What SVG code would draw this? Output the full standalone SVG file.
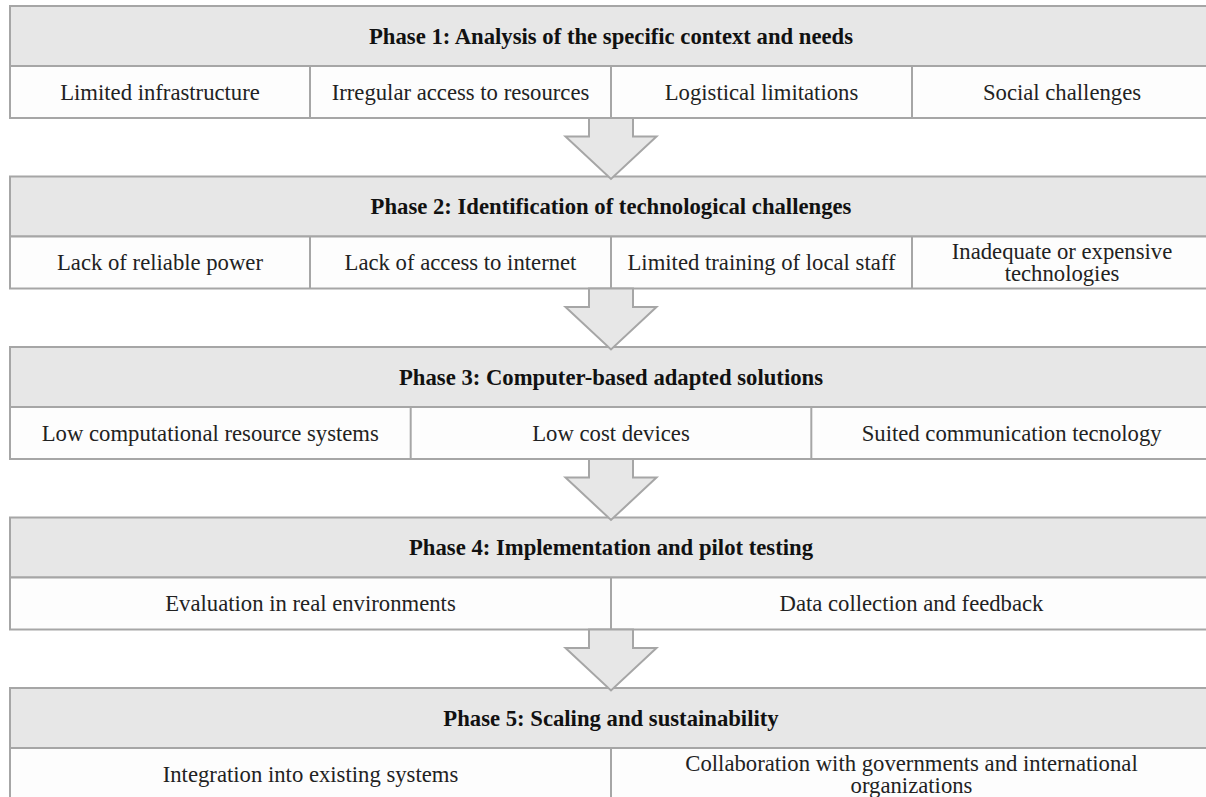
<svg xmlns="http://www.w3.org/2000/svg" width="1206" height="797" viewBox="0 0 1206 797">
<style>
.hd{fill:#e7e7e7;stroke:#a6a6a6;stroke-width:2}
.rw{fill:#fdfdfd;stroke:#a6a6a6;stroke-width:2}
.dv{stroke:#a6a6a6;stroke-width:2}
.ar{fill:#e7e7e7;stroke:#a6a6a6;stroke-width:2;stroke-linejoin:miter}
.tt{font-family:"Liberation Serif","Times New Roman",serif;font-size:22.7px;font-weight:bold;fill:#111;text-anchor:middle}
.tx{font-family:"Liberation Serif","Times New Roman",serif;font-size:22.7px;fill:#222;text-anchor:middle}
</style>
<rect x="0" y="0" width="1206" height="797" fill="#ffffff"/>
<g id="phase1">
<rect class="hd" x="10" y="6" width="1202" height="60"/>
<rect class="rw" x="10" y="66" width="1202" height="52"/>
<line class="dv" x1="310" y1="66" x2="310" y2="118"/>
<line class="dv" x1="611" y1="66" x2="611" y2="118"/>
<line class="dv" x1="912" y1="66" x2="912" y2="118"/>
<text class="tt" x="611" y="43.5">Phase 1: Analysis of the specific context and needs</text>
<text class="tx" x="160" y="99.5">Limited infrastructure</text>
<text class="tx" x="460.5" y="99.5">Irregular access to resources</text>
<text class="tx" x="761.5" y="99.5">Logistical limitations</text>
<text class="tx" x="1062" y="99.5">Social challenges</text>
</g>
<g id="phase2">
<rect class="hd" x="10" y="176.5" width="1202" height="60"/>
<rect class="rw" x="10" y="236.5" width="1202" height="52"/>
<line class="dv" x1="310" y1="236.5" x2="310" y2="288.5"/>
<line class="dv" x1="611" y1="236.5" x2="611" y2="288.5"/>
<line class="dv" x1="912" y1="236.5" x2="912" y2="288.5"/>
<text class="tt" x="611" y="214">Phase 2: Identification of technological challenges</text>
<text class="tx" x="160" y="270">Lack of reliable power</text>
<text class="tx" x="460.5" y="270">Lack of access to internet</text>
<text class="tx" x="761.5" y="270">Limited training of local staff</text>
<text class="tx" x="1062" y="258.5">Inadequate or expensive</text>
<text class="tx" x="1062" y="280.5">technologies</text>
</g>
<g id="phase3">
<rect class="hd" x="10" y="347" width="1202" height="60"/>
<rect class="rw" x="10" y="407" width="1202" height="52"/>
<line class="dv" x1="410.7" y1="407" x2="410.7" y2="459"/>
<line class="dv" x1="811.3" y1="407" x2="811.3" y2="459"/>
<text class="tt" x="611" y="384.5">Phase 3: Computer-based adapted solutions</text>
<text class="tx" x="210.3" y="440.5">Low computational resource systems</text>
<text class="tx" x="611" y="440.5">Low cost devices</text>
<text class="tx" x="1011.7" y="440.5">Suited communication tecnology</text>
</g>
<g id="phase4">
<rect class="hd" x="10" y="517.5" width="1202" height="60"/>
<rect class="rw" x="10" y="577.5" width="1202" height="52"/>
<line class="dv" x1="611" y1="577.5" x2="611" y2="629.5"/>
<text class="tt" x="611" y="555">Phase 4: Implementation and pilot testing</text>
<text class="tx" x="310.5" y="611">Evaluation in real environments</text>
<text class="tx" x="911.5" y="611">Data collection and feedback</text>
</g>
<g id="phase5">
<rect class="hd" x="10" y="688" width="1202" height="60"/>
<rect class="rw" x="10" y="748" width="1202" height="60"/>
<line class="dv" x1="611" y1="748" x2="611" y2="808"/>
<text class="tt" x="611" y="725.5">Phase 5: Scaling and sustainability</text>
<text class="tx" x="310.5" y="781.5">Integration into existing systems</text>
<text class="tx" x="911.5" y="770.5">Collaboration with governments and international</text>
<text class="tx" x="911.5" y="792.5">organizations</text>
</g>
<g id="connectors">
<polygon class="ar" points="589,118 633,118 633,136.5 656.5,136.5 611,179 565.5,136.5 589,136.5"/>
<polygon class="ar" points="589,288.5 633,288.5 633,307 656.5,307 611,349.5 565.5,307 589,307"/>
<polygon class="ar" points="589,459 633,459 633,477.5 656.5,477.5 611,520 565.5,477.5 589,477.5"/>
<polygon class="ar" points="589,629.5 633,629.5 633,648 656.5,648 611,690.5 565.5,648 589,648"/>
</g>
</svg>
